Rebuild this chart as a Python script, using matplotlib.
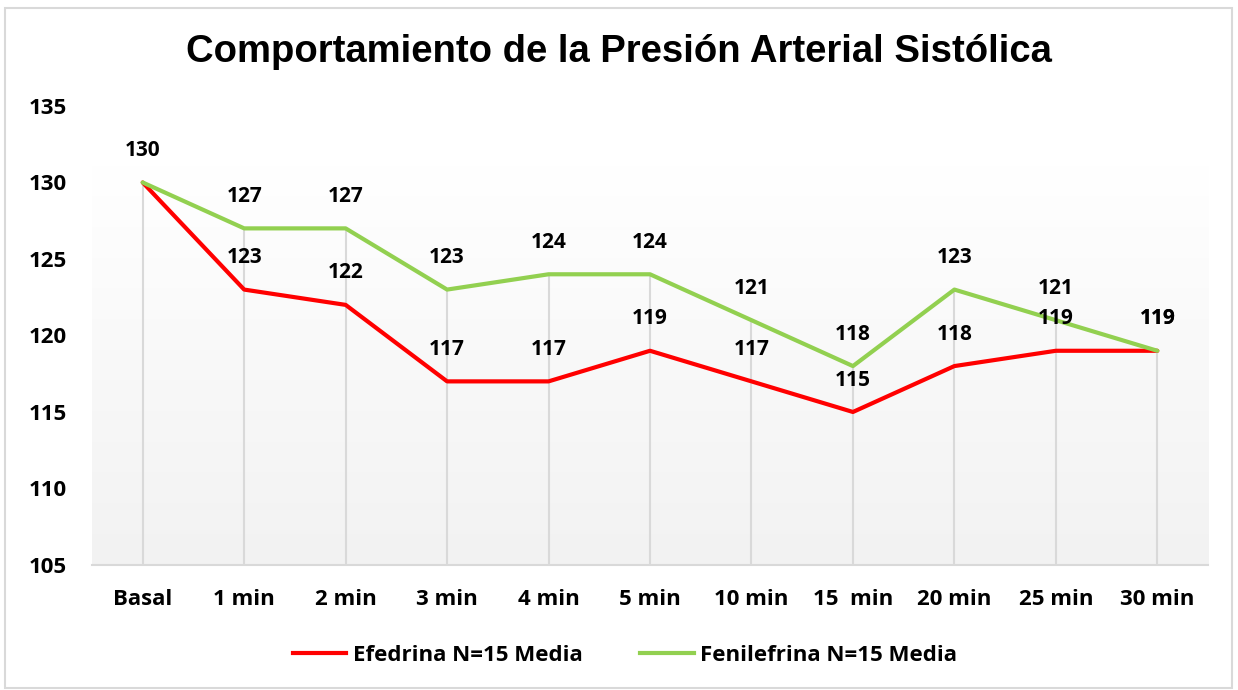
import matplotlib
matplotlib.use("Agg")
import matplotlib.pyplot as plt
import numpy as np
from matplotlib.patches import Rectangle
from matplotlib.lines import Line2D

categories = ["Basal", "1 min", "2 min", "3 min", "4 min", "5 min", "10 min", "15  min", "20 min", "25 min", "30 min"]
efedrina = [130, 123, 122, 117, 117, 119, 117, 115, 118, 119, 119]
fenilefrina = [130, 127, 127, 123, 124, 124, 121, 118, 123, 121, 119]
yticks = [105, 110, 115, 120, 125, 130, 135]
title = "Comportamiento de la Presión Arterial Sistólica"
label_ef = "Efedrina N=15 Media"
label_fe = "Fenilefrina N=15 Media"

RED = "#ff0000"
GREEN = "#92d050"
FONT = "Open Sans"

fig = plt.figure(figsize=(12.38, 6.9), dpi=100)
fig.patch.set_facecolor("white")
fig.add_artist(Rectangle((0.004, 0.003), 0.991, 0.985, transform=fig.transFigure,
                         fill=False, edgecolor="#d9d9d9", linewidth=1.5))

ax = fig.add_axes([0.0743, 0.1812, 0.9015, 0.6652])
x = np.arange(len(categories))
ax.set_xlim(-0.5, len(categories) - 0.5)
ax.set_ylim(105, 135)

# gradient background of plot area
grad = np.linspace(0, 1, 256).reshape(-1, 1)
c_top = np.array([1.0, 1.0, 1.0])
c_bot = np.array([0xf2, 0xf2, 0xf2]) / 255.0
img = c_top + (c_bot - c_top) * grad[..., None]
ax.imshow(img, extent=(-0.5, len(categories) - 0.5, 105, 131.1), aspect="auto",
          origin="upper", zorder=0)

for s in ["top", "right", "left"]:
    ax.spines[s].set_visible(False)
ax.spines["bottom"].set_color("#d9d9d9")
ax.spines["bottom"].set_linewidth(1.5)

# drop lines
for xi, a, b in zip(x, efedrina, fenilefrina):
    ax.plot([xi, xi], [105, max(a, b)], color="#d9d9d9", linewidth=1.5, zorder=1)

ax.plot(x, efedrina, color=RED, linewidth=3, zorder=3, solid_capstyle="round")
ax.plot(x, fenilefrina, color=GREEN, linewidth=3, zorder=4, solid_capstyle="round")

for xi, v in zip(x, efedrina):
    if xi == 0:
        continue
    ax.annotate(str(v), (xi, v), xytext=(0, 23), textcoords="offset points",
                ha="center", va="center", fontsize=15, fontweight="bold",
                family=FONT, color="black", zorder=5)
for xi, v in zip(x, fenilefrina):
    ax.annotate(str(v), (xi, v), xytext=(0, 23), textcoords="offset points",
                ha="center", va="center", fontsize=15, fontweight="bold",
                family=FONT, color="black", zorder=5)

ax.set_xticks(x)
ax.set_xticklabels(categories, fontsize=16, fontweight="bold", family=FONT)
ax.set_yticks(yticks)
ax.set_yticklabels([str(t) for t in yticks], fontsize=16, fontweight="bold", family=FONT)
ax.tick_params(axis="both", length=0)
ax.tick_params(axis="x", pad=17)
ax.tick_params(axis="y", pad=18)

fig.text(0.5, 0.925, title, ha="center", va="center", fontsize=27.5,
         fontweight="bold", family="Liberation Sans")

handles = [Line2D([0], [0], color=RED, linewidth=3),
           Line2D([0], [0], color=GREEN, linewidth=3)]
leg = fig.legend(handles, [label_ef, label_fe], loc="center", bbox_to_anchor=(0.505, 0.05),
                 ncol=2, frameon=False, handlelength=2.4, handletextpad=0.3,
                 columnspacing=2.6,
                 prop={"family": FONT, "weight": "bold", "size": 16})

fig.savefig("out.png", dpi=100, facecolor="white")
